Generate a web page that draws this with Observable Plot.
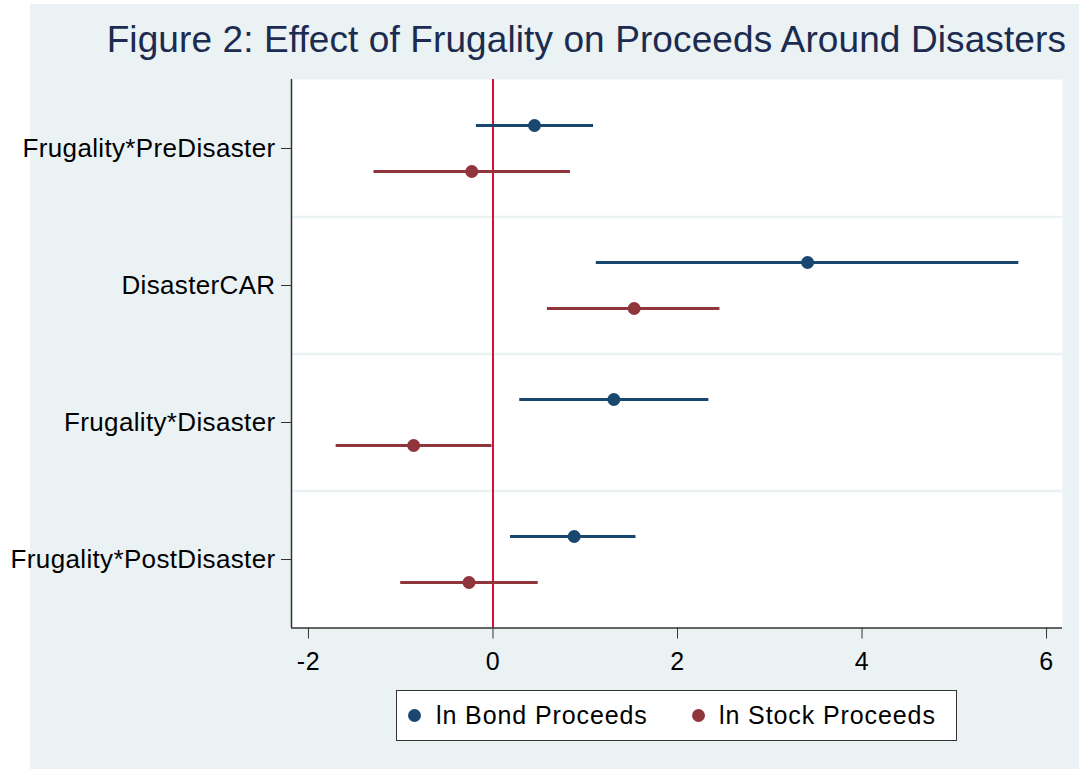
<!DOCTYPE html>
<html><head><meta charset="utf-8">
<script src="https://cdn.jsdelivr.net/npm/d3@7"></script>
<script src="https://cdn.jsdelivr.net/npm/@observablehq/plot@0.6"></script>
<style>
body{margin:0;background:#fff;font-family:"Liberation Sans",Arial,sans-serif;}
#wrap{position:relative;width:1079px;height:769px;overflow:hidden;}
#panel{position:absolute;left:30px;top:4px;right:0;bottom:0;background:#eaf2f3;}
#title{position:relative;height:70px;box-sizing:border-box;padding-top:21px;padding-right:13px;text-align:right;font-size:37px;line-height:37px;color:#1c2b4f;white-space:nowrap;letter-spacing:0.1px;}
#chart{position:relative;height:620px;}
#chart g[aria-label="y-axis tick label"] text{letter-spacing:0.35px;}
#chart g[aria-label="x-axis tick label"] text{letter-spacing:0.5px;}
#legend{position:relative;margin-left:396px;width:561px;height:51px;box-sizing:border-box;border:1px solid #333;background:#fff;font-size:25px;color:#000;}
#legend .dot{position:absolute;top:18px;width:13px;height:13px;border-radius:50%;}
#legend .lab{position:absolute;top:0;line-height:49px;white-space:nowrap;letter-spacing:0.9px;}
</style>
</head>
<body>
<div id="wrap">
  <div id="panel"></div>
  <div id="title">Figure 2: Effect of Frugality on Proceeds Around Disasters</div>
  <div id="chart"></div>
  <div id="legend"></div>
</div>
<script>
const categories = ["Frugality*PreDisaster", "DisasterCAR", "Frugality*Disaster", "Frugality*PostDisaster"];
const seriesNames = ["ln Bond Proceeds", "ln Stock Proceeds"];
const seriesColors = ["#1a476f", "#90353b"];
const bondCoef = [0.45, 3.41, 1.31, 0.88];
const bondLo   = [-0.18, 1.12, 0.29, 0.19];
const bondHi   = [1.09, 5.70, 2.34, 1.55];
const stockCoef = [-0.23, 1.53, -0.86, -0.26];
const stockLo   = [-1.29, 0.59, -1.70, -1.00];
const stockHi   = [0.84, 2.46, -0.01, 0.49];
const xTicks = [-2, 0, 2, 4, 6];
const xDomain = [-2.184, 6.173];

const W = 1079, H = 620, mt = 9, mb = 62.5, ml = 291, mr = 17;
const step = (H - mt - mb) / categories.length;
const off = 23;

const bondRows = categories.map((c, i) => ({cat: c, coef: bondCoef[i], lo: bondLo[i], hi: bondHi[i]}));
const stockRows = categories.map((c, i) => ({cat: c, coef: stockCoef[i], lo: stockLo[i], hi: stockHi[i]}));

const chart = Plot.plot({
  width: W, height: H,
  marginTop: mt, marginBottom: mb, marginLeft: ml, marginRight: mr,
  style: {background: "transparent", fontFamily: "'Liberation Sans', Arial, sans-serif", color: "#000"},
  x: {domain: xDomain, ticks: xTicks, label: null},
  y: {type: "point", domain: categories, padding: 0.5, label: null},
  marks: [
    Plot.frame({fill: "white", stroke: "none"}),
    Plot.ruleY(categories.slice(0, -1), {dy: step / 2, stroke: "#eaf2f3", strokeWidth: 2.5}),
    Plot.ruleX([0], {stroke: "#d0103a", strokeWidth: 2}),
    Plot.ruleY(bondRows, {y: "cat", x1: "lo", x2: "hi", dy: -off, stroke: seriesColors[0], strokeWidth: 2.8}),
    Plot.ruleY(stockRows, {y: "cat", x1: "lo", x2: "hi", dy: off, stroke: seriesColors[1], strokeWidth: 2.8}),
    Plot.dot(bondRows, {y: "cat", x: "coef", dy: -off, r: 6.5, fill: seriesColors[0], stroke: "none"}),
    Plot.dot(stockRows, {y: "cat", x: "coef", dy: off, r: 6.5, fill: seriesColors[1], stroke: "none"}),
    Plot.ruleX([xDomain[0]], {stroke: "#333", strokeWidth: 1.5}),
    Plot.ruleY(categories.slice(-1), {dy: step / 2, stroke: "#333", strokeWidth: 1.5}),
    Plot.axisX(xTicks, {tickSize: 11, tickPadding: 13, fontSize: 25, stroke: "#333", fill: "#000", label: null, tickFormat: d => d < 0 ? "-" + Math.abs(d) : String(d)}),
    Plot.axisY({tickSize: 10, tickPadding: 6, fontSize: 26, stroke: "#333", fill: "#000", label: null})
  ]
});
document.getElementById("chart").appendChild(chart);

const legend = document.getElementById("legend");
const dotLeft = [10.5, 294.5];
const labLeft = [39, 322];
seriesNames.forEach((name, i) => {
  const d = document.createElement("span");
  d.className = "dot";
  d.style.left = dotLeft[i] + "px";
  d.style.background = seriesColors[i];
  legend.appendChild(d);
  const t = document.createElement("span");
  t.className = "lab";
  t.style.left = labLeft[i] + "px";
  t.textContent = name;
  legend.appendChild(t);
});
</script>
</body></html>
